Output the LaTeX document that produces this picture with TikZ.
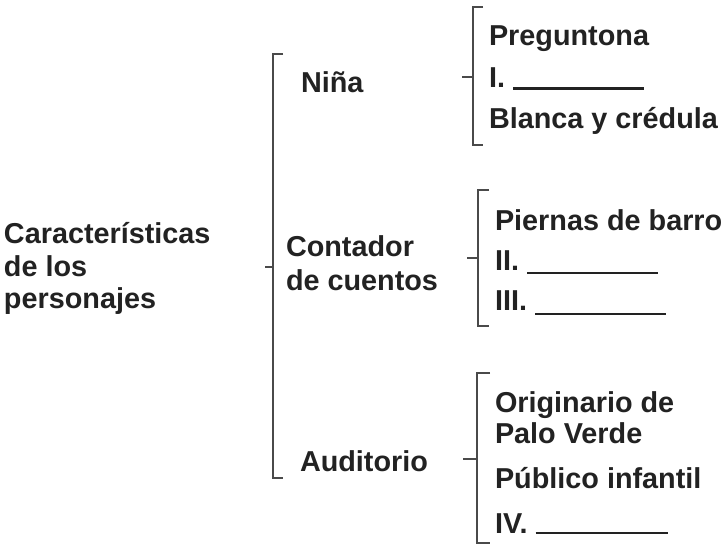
\documentclass[tikz,border=0pt]{standalone}
\usepackage{fontspec}
\setmainfont{Liberation Sans}
\definecolor{txt}{HTML}{222222}
\definecolor{brk}{HTML}{4A4A4A}
\begin{document}
\begin{tikzpicture}[x=1pt,y=-1pt,
  lbl/.style={anchor=base west,inner sep=0pt,outer sep=0pt,text=txt,font=\fontsize{28.8}{32.5}\selectfont\bfseries},
  brace/.style={draw=brk,line width=1.5pt,line join=miter}]
\useasboundingbox (0,0) rectangle (728,557);
% left title
\node[lbl] (c1) at (4,243) {Características};
\node[lbl] (c2) at (4,276) {de los};
\node[lbl] (c3) at (4,308) {personajes};
% main bracket
\coordinate (m) at (265,267);
\draw[brace] (283,54) -- (273,54) -- (273,478) -- (283,478);
\draw[brace] (m) -- (273,267);
% second level
\node[lbl] (nina) at (301,92) {Niña};
\node[lbl] (cont1) at (286,256) {Contador};
\node[lbl] (cont2) at (286,290) {de cuentos};
\node[lbl] (aud) at (300,471) {Auditorio};
% bracket 1
\draw[brace] (483,7) -- (473,7) -- (473,145) -- (483,145);
\draw[brace] (462,77) -- (473,77);
\node[lbl] (p1) at (489,45) {Preguntona};
\node[lbl] (p2) at (489,87) {I. \rule[-2.5pt]{131pt}{2.5pt}};
\node[lbl] (p3) at (489,128) {Blanca y crédula};
% bracket 2
\draw[brace] (489,190) -- (478,190) -- (478,326) -- (489,326);
\draw[brace] (467,258) -- (478,258);
\node[lbl] (q1) at (495,230) {Piernas de barro};
\node[lbl] (q2) at (495,270) {II. \rule[-4pt]{131pt}{2.5pt}};
\node[lbl] (q3) at (495,310) {III. \rule[-5pt]{131pt}{2.5pt}};
% bracket 3
\draw[brace] (490,373) -- (477,373) -- (477,543) -- (490,543);
\draw[brace] (463,459) -- (477,459);
\node[lbl] (r1) at (495,412) {Originario de};
\node[lbl] (r2) at (495,443) {Palo Verde};
\node[lbl] (r3) at (495,488) {Público infantil};
\node[lbl] (r4) at (495,533) {IV. \rule[-1pt]{132pt}{2.5pt}};
\end{tikzpicture}
\end{document}
